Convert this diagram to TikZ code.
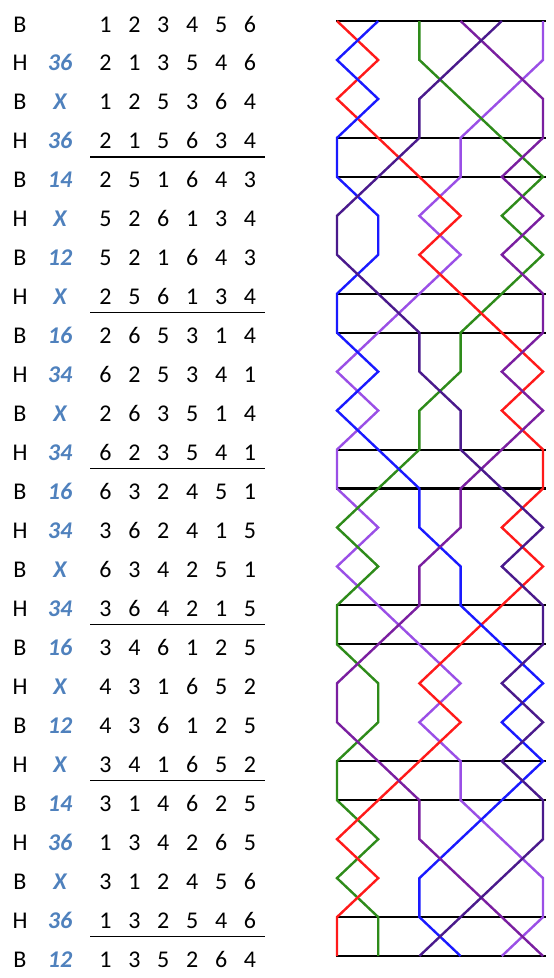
\documentclass[tikz,border=0pt]{standalone}
\usepackage{fontspec}
\setmainfont{Carlito}
\definecolor{notecol}{HTML}{4F81BD}
\definecolor{cA}{HTML}{FF1A1A}
\definecolor{cB}{HTML}{1A1AFF}
\definecolor{cC}{HTML}{2E8B1A}
\definecolor{cD}{HTML}{7A1FA0}
\definecolor{cE}{HTML}{4A1A8C}
\definecolor{cF}{HTML}{9A4FE6}
\begin{document}
\begin{tikzpicture}[x=1pt,y=-1pt,
  txt/.style={font=\fontsize{24}{24}\selectfont,anchor=base,inner sep=0pt},
  note/.style={txt,font=\fontsize{24}{24}\selectfont\bfseries\itshape,text=notecol},
  bell/.style={line width=2.4pt,line join=miter},
  rule/.style={line width=1.1pt,black},
  lead/.style={line width=2.1pt,black}]
\useasboundingbox (0,0) rectangle (554,978);
% grid coordinates of the line diagram
\foreach \r in {0,...,24}{
  \foreach \k in {1,...,6}{
    \coordinate (g-\r-\k) at ({337+(\k-1)*41.2},{21+38.96*\r});
  }
  \coordinate (gl-\r) at (336,{21+38.96*\r});
  \coordinate (gr-\r) at (546,{21+38.96*\r});
}
% table
\foreach \r/\s/\n/\row in {
 0/B//{1,2,3,4,5,6},
 1/H/36/{2,1,3,5,4,6},
 2/B/X/{1,2,5,3,6,4},
 3/H/36/{2,1,5,6,3,4},
 4/B/14/{2,5,1,6,4,3},
 5/H/X/{5,2,6,1,3,4},
 6/B/12/{5,2,1,6,4,3},
 7/H/X/{2,5,6,1,3,4},
 8/B/16/{2,6,5,3,1,4},
 9/H/34/{6,2,5,3,4,1},
 10/B/X/{2,6,3,5,1,4},
 11/H/34/{6,2,3,5,4,1},
 12/B/16/{6,3,2,4,5,1},
 13/H/34/{3,6,2,4,1,5},
 14/B/X/{6,3,4,2,5,1},
 15/H/34/{3,6,4,2,1,5},
 16/B/16/{3,4,6,1,2,5},
 17/H/X/{4,3,1,6,5,2},
 18/B/12/{4,3,6,1,2,5},
 19/H/X/{3,4,1,6,5,2},
 20/B/14/{3,1,4,6,2,5},
 21/H/36/{1,3,4,2,6,5},
 22/B/X/{3,1,2,4,5,6},
 23/H/36/{1,3,2,5,4,6},
 24/B/12/{1,3,5,2,6,4}}{
  \node[txt] (L\r) at (20,{32+38.96*\r}) {\s};
  \node[note] (N\r) at (60,{32+38.96*\r}) {\n};
  \foreach \d [count=\k] in \row {
    \node[txt] (D\r-\k) at ({105.5+(\k-1)*28.9},{32+38.96*\r}) {\d};
  }
}
% underlines
\foreach \r in {3,7,11,15,19,23}{
  \coordinate (ul-\r) at (90,{157+38.96*(\r-3)});
  \coordinate (ur-\r) at (265,{157+38.96*(\r-3)});
  \draw[rule] (ul-\r) -- (ur-\r);
}
% lead lines
\foreach \r in {0,3,4,7,8,11,12,15,16,19,20,23,24}{
  \draw[lead] (gl-\r) -- (gr-\r);
}
% bell paths
\draw[bell,cF] (g-0-6) \foreach \p [count=\r] in {6,5,4,4,3,4,3,2,1,2,1,1,2,1,2,3,4,3,4,4,5,6,6,5}{ -- (g-\r-\p) };
\draw[bell,cC] (g-0-3) \foreach \p [count=\r] in {3,4,5,6,5,6,5,4,4,3,3,2,1,2,1,1,2,2,1,1,2,1,2,2}{ -- (g-\r-\p) };
\draw[bell,cA] (g-0-1) \foreach \p [count=\r] in {2,1,2,3,4,3,4,5,6,5,6,6,5,6,5,4,3,4,3,2,1,2,1,1}{ -- (g-\r-\p) };
\draw[bell,cB] (g-0-2) \foreach \p [count=\r] in {1,2,1,1,2,2,1,1,2,1,2,3,3,4,4,5,6,5,6,5,4,3,3,4}{ -- (g-\r-\p) };
\draw[bell,cD] (g-0-4) \foreach \p [count=\r] in {5,6,6,5,6,5,6,6,5,6,5,4,4,3,3,2,1,1,2,3,3,4,5,6}{ -- (g-\r-\p) };
\draw[bell,cE] (g-0-5) \foreach \p [count=\r] in {4,3,3,2,1,1,2,3,3,4,4,5,6,5,6,6,5,6,5,6,6,5,4,3}{ -- (g-\r-\p) };
\end{tikzpicture}
\end{document}
